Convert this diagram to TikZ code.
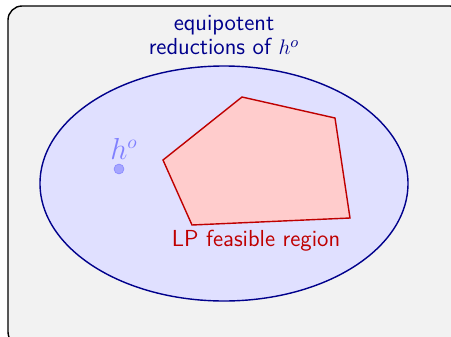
\documentclass[tikz,border=0pt]{standalone}
\usetikzlibrary{positioning}

\begin{document}
\begin{tikzpicture}[
  x=0.02cm, y=-0.02cm,
  font=\sffamily\fontsize{13.2}{14}\selectfont,
  frame/.style={draw=black, thick, fill=gray!10, rounded corners=8pt},
  reductions/.style={draw=blue!55!black, thick, fill=blue!12},
  feasible/.style={draw=red!75!black, thick, fill=red!20},
  hpoint/.style={circle, draw=blue!45, fill=blue!35, inner sep=0pt, minimum size=5.6pt}
]
\useasboundingbox (0,0) rectangle (451,336);

% outer box
\draw[frame] (8,6) rectangle (464,346);

% set of equipotent reductions
\draw[reductions] (224,183.5) ellipse [x radius=184, y radius=117.5];
\node[text=blue!55!black, align=center] (redlabel) at (224,35)
  {equipotent\\reductions of $h^o$};

% LP polytope
\draw[feasible] (163,160) coordinate (v1) -- (242,97) coordinate (v2)
  -- (335,118) coordinate (v3) -- (350,218) coordinate (v4)
  -- (192,225) coordinate (v5) -- cycle;
\node[text=red!75!black] (lplabel) at (256,241) {LP feasible region};

% the original heuristic
\node[hpoint] (ho) at (119,169) {};
\node[text=blue!50, font=\fontsize{16}{18}\selectfont] (holabel) at (124,149) {$h^o$};

\end{tikzpicture}
\end{document}
